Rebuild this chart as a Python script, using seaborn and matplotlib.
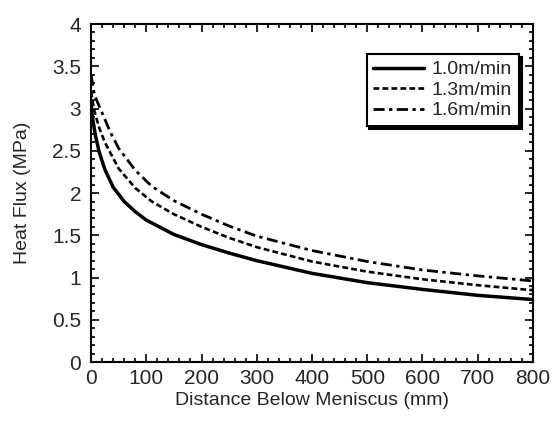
import matplotlib
matplotlib.use("Agg")
import matplotlib.pyplot as plt
from matplotlib.ticker import AutoMinorLocator
import pandas as pd
import seaborn as sns

# Heat flux profiles along the mould for three casting speeds
speeds = ["1.0m/min", "1.3m/min", "1.6m/min"]

dist_10 = [0, 3, 8, 15, 25, 40, 60, 80, 100, 150, 200, 250, 300, 400, 500, 600, 700, 800]
flux_10 = [3.05, 2.88, 2.68, 2.48, 2.28, 2.07, 1.90, 1.78, 1.68, 1.51, 1.39, 1.29, 1.20, 1.05, 0.94, 0.86, 0.79, 0.74]

dist_13 = [0, 5, 10, 15, 25, 50, 80, 110, 150, 200, 250, 300, 400, 500, 600, 700, 800]
flux_13 = [3.20, 3.00, 2.88, 2.77, 2.60, 2.29, 2.06, 1.90, 1.75, 1.60, 1.47, 1.36, 1.19, 1.07, 0.98, 0.91, 0.85]

dist_16 = [0, 5, 10, 20, 35, 50, 80, 110, 150, 200, 250, 300, 400, 500, 600, 700, 800]
flux_16 = [3.40, 3.20, 3.10, 2.95, 2.72, 2.53, 2.27, 2.08, 1.91, 1.75, 1.61, 1.49, 1.32, 1.19, 1.09, 1.02, 0.96]

x_ticks = [0, 100, 200, 300, 400, 500, 600, 700, 800]
y_ticks = [0, 0.5, 1, 1.5, 2, 2.5, 3, 3.5, 4]

frames = []
for name, d, f in zip(speeds, [dist_10, dist_13, dist_16], [flux_10, flux_13, flux_16]):
    frames.append(pd.DataFrame({"Distance": d, "Flux": f, "Speed": name}))
df = pd.concat(frames, ignore_index=True)

sns.set_style("ticks")
plt.rcParams["font.family"] = ["Liberation Sans", "DejaVu Sans"]

fig = plt.figure(figsize=(5.53, 4.25), dpi=100)
ax = fig.add_axes([0.1646, 0.148, 0.7992, 0.7955])

dash_styles = {"1.0m/min": "", "1.3m/min": (2.2, 1.2), "1.6m/min": (4, 1.6, 1.2, 1.6)}
widths = [2.5, 1.9, 2.0]
sns.lineplot(data=df, x="Distance", y="Flux", style="Speed", hue="Speed",
             palette=["black"] * 3, dashes=dash_styles, style_order=speeds,
             hue_order=speeds, ax=ax, linewidth=2, estimator=None, sort=True)

for line, lw in zip(ax.lines[:3], widths):
    line.set_linewidth(lw)

ax.set_xlim(0, 800)
ax.set_ylim(0, 4)
ax.set_xticks(x_ticks)
ax.set_yticks(y_ticks)
ax.set_yticklabels([f"{v:g}" for v in y_ticks])
ax.xaxis.set_minor_locator(AutoMinorLocator(5))
ax.yaxis.set_minor_locator(AutoMinorLocator(5))
ax.tick_params(which="both", direction="in", top=True, right=True, color="black", width=1.2)
ax.tick_params(which="major", length=6, labelsize=15)
ax.tick_params(axis="x", which="major", pad=5)
ax.tick_params(axis="y", which="major", pad=7)
ax.tick_params(which="minor", length=3)
for s in ax.spines.values():
    s.set_linewidth(1.5)
    s.set_color("black")

ax.set_xlabel("Distance Below Meniscus (mm)", fontsize=14, labelpad=3)
ax.set_ylabel("Heat Flux (MPa)", fontsize=14, labelpad=15)

leg = ax.legend(loc="upper right", bbox_to_anchor=(0.99, 0.94), fontsize=14,
                frameon=True, fancybox=False, shadow={"color": "black", "alpha": 1},
                handlelength=2.6, handletextpad=0.4, borderpad=0.35, labelspacing=0.15,
                title=None)
leg.get_frame().set_edgecolor("black")
leg.get_frame().set_linewidth(1.5)
for h, lw in zip(leg.get_lines(), widths):
    h.set_linewidth(lw)

fig.savefig("out.png", dpi=100)
